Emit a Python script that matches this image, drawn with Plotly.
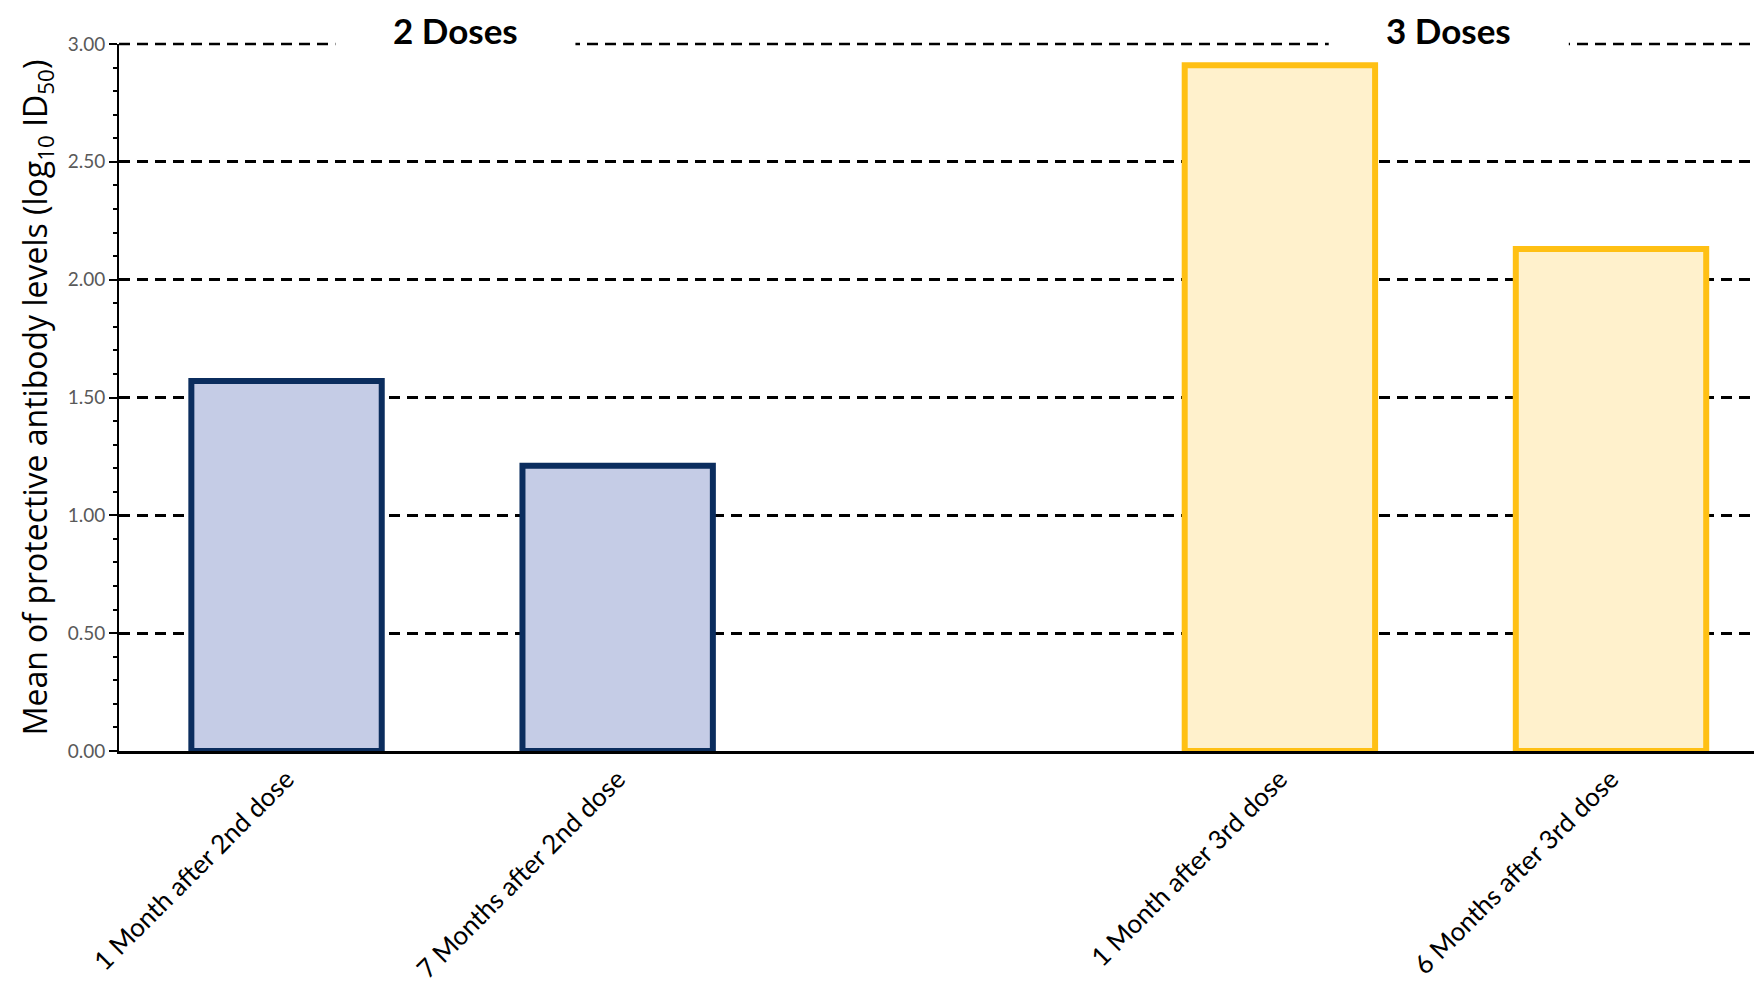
import plotly.graph_objects as go

categories = ["1 Month after 2nd dose", "7 Months after 2nd dose",
              "1 Month after 3rd dose", "6 Months after 3rd dose"]
positions = [0, 1, 3, 4]
values = [1.57, 1.21, 2.91, 2.13]
group_labels = ["2 Doses", "3 Doses"]
group_positions = [0.51, 3.51]

fill_colors = ["#C5CCE6", "#C5CCE6", "#FFF1CC", "#FFF1CC"]
line_colors = ["#0B2D5E", "#0B2D5E", "#FFC014", "#FFC014"]

fig = go.Figure()
fig.add_trace(go.Bar(
    x=positions, y=values, width=0.575,
    marker=dict(color=fill_colors, line=dict(color=line_colors, width=6)),
    hoverinfo="x+y", showlegend=False,
))

# top gridline at 3.00 (plotly omits gridline at the range edge)
fig.add_shape(type="line", xref="paper", x0=0, x1=1, yref="paper", y0=1, y1=1,
              line=dict(color="black", width=2.5, dash="11px,7px"), layer="above")

for lab, gx in zip(group_labels, group_positions):
    # white gap in the top gridline behind each group title
    fig.add_shape(type="rect", xref="x", x0=gx - 0.3625, x1=gx + 0.3625,
                  yref="paper", y0=0.99, y1=1.01,
                  fillcolor="white", line=dict(width=0), layer="above")
    fig.add_annotation(x=gx, xref="x", y=1, yref="paper", yshift=14,
                       yanchor="middle", text="<b>%s</b>" % lab, showarrow=False,
                       font=dict(family="Lato", size=35, color="black"))

fig.update_layout(
    width=1754, height=983,
    margin=dict(l=111, r=0, t=36, b=240, autoexpand=False),
    plot_bgcolor="white", paper_bgcolor="white",
    font=dict(family="Lato", color="black"),
)
fig.update_xaxes(
    range=[-0.506, 4.456], tickvals=positions, ticktext=categories,
    tickangle=-45, tickfont=dict(family="Lato", size=26, color="black"),
    showline=True, linecolor="black", linewidth=2.5, ticks="",
    showgrid=False, zeroline=False, automargin=False,
)
fig.update_yaxes(
    range=[0, 3.0], tickmode="linear", tick0=0, dtick=0.5, tickformat=".2f",
    tickfont=dict(family="Lato", size=19, color="#595959"),
    showline=True, linecolor="black", linewidth=2,
    ticks="outside", ticklen=8, tickwidth=2, tickcolor="black",
    minor=dict(tickmode="linear", tick0=0, dtick=0.1, ticks="outside", ticklen=4,
               tickwidth=2, tickcolor="black", showgrid=False),
    showgrid=True, gridcolor="black", gridwidth=2.5, griddash="11px,7px",
    zeroline=False, automargin=False,
    title=dict(text="Mean of protective antibody levels (log<sub>10</sub> ID<sub>50</sub>)",
               font=dict(family="Open Sans", size=32, color="black"), standoff=10),
)

fig.write_html("out.html")
